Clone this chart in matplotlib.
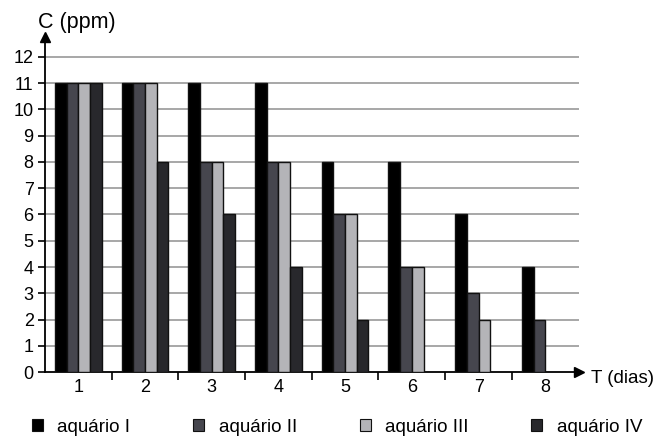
import matplotlib
matplotlib.use("Agg")
import matplotlib.pyplot as plt
from matplotlib.patches import Patch
import numpy as np

plt.rcParams['font.family'] = ['Liberation Sans', 'DejaVu Sans']

days = [1, 2, 3, 4, 5, 6, 7, 8]
series_names = ["aquário I", "aquário II", "aquário III", "aquário IV"]
aquario_I = [11, 11, 11, 11, 8, 8, 6, 4]
aquario_II = [11, 11, 8, 8, 6, 4, 3, 2]
aquario_III = [11, 11, 8, 8, 6, 4, 2, 0]
aquario_IV = [11, 8, 6, 4, 2, 0, 0, 0]
y_ticks = list(range(0, 13))

colors = ["#000000", "#46464e", "#b4b4b8", "#28282c"]
series = [aquario_I, aquario_II, aquario_III, aquario_IV]

fig = plt.figure(figsize=(6.69, 4.41), dpi=100)
ax = fig.add_axes([0.067, 0.156, 0.798, 0.760])

x = np.array(days, dtype=float)
w = 0.175
offsets = (np.arange(4) - 1.5) * w
for vals, col, off, name in zip(series, colors, offsets, series_names):
    v = np.array(vals, dtype=float)
    mask = v > 0
    ax.bar(x[mask] + off, v[mask], width=w, color=col, edgecolor="#111111",
           linewidth=1.0, zorder=3, label=name)

ax.set_xlim(0.5, 8.5)
ax.set_ylim(0, 12.75)

# horizontal grid
for yv in y_ticks[1:]:
    ax.axhline(yv, color="#a0a0a0", linewidth=1.3, zorder=1)

ax.spines['top'].set_visible(False)
ax.spines['right'].set_visible(False)
ax.spines['left'].set_linewidth(1.3)
ax.spines['bottom'].set_linewidth(1.3)

ax.set_yticks(y_ticks)
ax.set_yticklabels([str(t) for t in y_ticks], fontsize=13)
ax.tick_params(axis='y', length=5, width=1.2, pad=3)

ax.set_xticks(days)
ax.set_xticklabels([str(d) for d in days], fontsize=13)
ax.tick_params(axis='x', which='major', length=0, pad=5)
ax.set_xticks([d + 0.5 for d in days[:-1]], minor=True)
ax.tick_params(axis='x', which='minor', length=6, width=1.2, direction='out')

# axis arrows
ax.plot(1, 0, ">", color="black", markersize=7, transform=ax.transAxes,
        clip_on=False, zorder=5)
ax.plot(0, 1, "^", color="black", markersize=7, transform=ax.transAxes,
        clip_on=False, zorder=5)

fig.text(0.057, 0.950, "C (ppm)", fontsize=15.5, ha="left", va="center")
fig.text(0.884, 0.142, "T (dias)", fontsize=13.5, ha="left", va="center")

handles = [Patch(facecolor=c, edgecolor="#111111", linewidth=0.8) for c in colors]
fig.legend(handles, series_names, loc="center left", bbox_to_anchor=(0.048, 0.031),
           ncol=4, frameon=False, fontsize=13.5, handlelength=0.6, handleheight=0.6,
           handletextpad=0.75, columnspacing=3.35, borderaxespad=0, borderpad=0)

fig.savefig("out.png", dpi=100)
